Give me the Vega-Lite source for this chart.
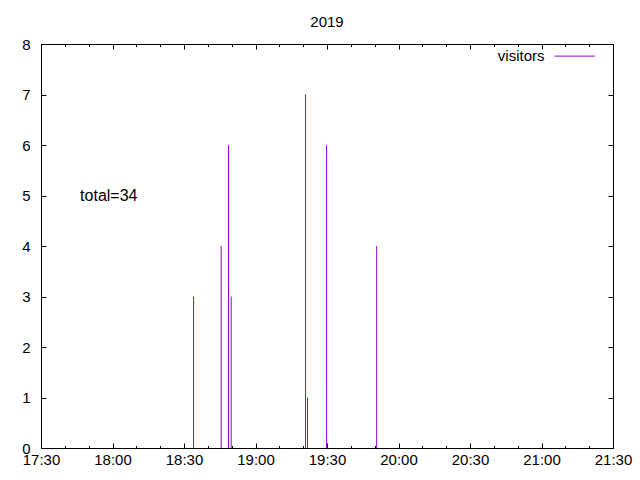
{
  "$schema": "https://vega.github.io/schema/vega-lite/v6.json",
  "width": 572,
  "height": 404,
  "autosize": {"type": "none"},
  "padding": {"left": 41, "top": 44, "right": 27, "bottom": 32},
  "background": "white",
  "title": {"text": "2019", "fontSize": 15, "fontWeight": "normal", "font": "Liberation Sans", "color": "#000", "baseline": "alphabetic", "offset": -5},
  "config": {
    "view": {"stroke": "#000", "strokeWidth": 1},
    "axis": {"labelFont": "Liberation Sans", "labelFontSize": 15, "labelColor": "#000", "tickColor": "#000", "grid": false, "domain": false, "title": null, "labelFlush": false, "labelOverlap": false}
  },
  "data": {"values": [
    {"time": "2019-01-01T18:34:00Z", "visitors": 3},
    {"time": "2019-01-01T18:45:36Z", "visitors": 4},
    {"time": "2019-01-01T18:48:40Z", "visitors": 6},
    {"time": "2019-01-01T18:49:48Z", "visitors": 3},
    {"time": "2019-01-01T19:21:00Z", "visitors": 7},
    {"time": "2019-01-01T19:21:50Z", "visitors": 1},
    {"time": "2019-01-01T19:29:50Z", "visitors": 6},
    {"time": "2019-01-01T19:50:50Z", "visitors": 4}
  ]},
  "resolve": {"axis": {"x": "independent", "y": "independent"}},
  "layer": [
    {
      "mark": {"type": "rule", "color": "#9400d3", "strokeWidth": 1},
      "encoding": {
        "x": {"field": "time", "type": "temporal",
          "scale": {"type": "utc", "domain": [1546363800000, 1546378200000]},
          "axis": {"orient": "bottom", "format": "%H:%M", "tickSize": 5, "offset": -5, "labelPadding": 4,
            "values": [1546363800000, 1546365600000, 1546367400000, 1546369200000, 1546371000000, 1546372800000, 1546374600000, 1546376400000, 1546378200000]}},
        "y": {"field": "visitors", "type": "quantitative", "scale": {"domain": [0, 8], "nice": false},
          "axis": {"orient": "left", "values": [0,1,2,3,4,5,6,7,8], "tickSize": 5, "offset": -5, "labelPadding": 11}},
        "y2": {"datum": 0}
      }
    },
    {
      "data": {"values": [{}]},
      "mark": {"type": "text", "text": "total=34", "align": "left", "baseline": "middle", "font": "Liberation Sans", "fontSize": 16, "fill": "#000"},
      "encoding": {
        "x": {"datum": 1546364784000, "type": "temporal",
          "axis": {"orient": "top", "labels": false, "tickSize": 5, "offset": -5,
            "values": [1546363800000, 1546365600000, 1546367400000, 1546369200000, 1546371000000, 1546372800000, 1546374600000, 1546376400000, 1546378200000]}},
        "y": {"datum": 5, "type": "quantitative",
          "axis": {"orient": "right", "labels": false, "tickSize": 5, "offset": -5, "values": [0,1,2,3,4,5,6,7,8]}}
      }
    },
    {
      "data": {"values": [{}]},
      "mark": {"type": "text", "text": "visitors", "align": "right", "baseline": "middle", "font": "Liberation Sans", "fontSize": 15, "fill": "#000"},
      "encoding": {
        "x": {"datum": 1546376475000, "type": "temporal",
          "axis": {"orient": "bottom", "labels": false, "tickSize": 2.5, "offset": -2.5,
            "values": [1546363800000, 1546364400000, 1546365000000, 1546365600000, 1546366200000, 1546366800000, 1546367400000, 1546368000000, 1546368600000, 1546369200000, 1546369800000, 1546370400000, 1546371000000, 1546371600000, 1546372200000, 1546372800000, 1546373400000, 1546374000000, 1546374600000, 1546375200000, 1546375800000, 1546376400000, 1546377000000, 1546377600000, 1546378200000]}},
        "y": {"datum": 7.77, "type": "quantitative", "axis": null}
      }
    },
    {
      "data": {"values": [{}]},
      "mark": {"type": "rule", "color": "#9400d3", "strokeWidth": 1},
      "encoding": {
        "x": {"datum": 1546376730000, "type": "temporal",
          "axis": {"orient": "top", "labels": false, "tickSize": 2.5, "offset": -2.5,
            "values": [1546363800000, 1546364400000, 1546365000000, 1546365600000, 1546366200000, 1546366800000, 1546367400000, 1546368000000, 1546368600000, 1546369200000, 1546369800000, 1546370400000, 1546371000000, 1546371600000, 1546372200000, 1546372800000, 1546373400000, 1546374000000, 1546374600000, 1546375200000, 1546375800000, 1546376400000, 1546377000000, 1546377600000, 1546378200000]}},
        "x2": {"datum": 1546377744000},
        "y": {"datum": 7.76, "type": "quantitative", "axis": null}
      }
    }
  ]
}
